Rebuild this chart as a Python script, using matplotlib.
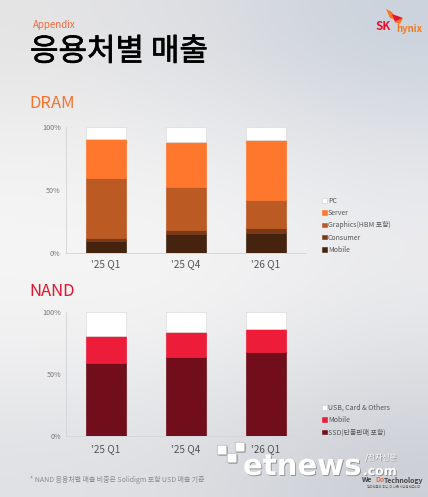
import matplotlib
matplotlib.use("Agg")
import matplotlib.pyplot as plt
import matplotlib.patheffects as pe
from matplotlib.patches import Patch, Polygon, FancyBboxPatch
import numpy as np

plt.rcParams["font.family"] = ["Noto Sans CJK KR", "DejaVu Sans"]

W, H = 428, 497

quarters = ["'25 Q1", "'25 Q4", "'26 Q1"]
y_ticks = [0, 50, 100]
y_tick_labels = ["0%", "50%", "100%"]

# DRAM share per quarter, bottom to top
dram_labels = ["Mobile", "Consumer", "Graphics(HBM 포함)", "Server", "PC"]
dram_colors = ["#46230f", "#7a3a17", "#bc5a24", "#ff762d", "#ffffff"]
dram_mobile = [9.5, 14.8, 15.9]
dram_consumer = [1.9, 2.9, 3.7]
dram_graphics = [47.6, 34.2, 22.2]
dram_server = [31.5, 35.9, 47.9]
dram_pc = [9.5, 12.2, 10.3]

# NAND share per quarter, bottom to top
nand_labels = ["SSD(단품판매 포함)", "Mobile", "USB, Card & Others"]
nand_colors = ["#720d1c", "#ed1c38", "#ffffff"]
nand_ssd = [59.0, 63.6, 67.9]
nand_mobile = [21.9, 20.2, 18.9]
nand_others = [19.1, 16.2, 13.2]

# background colours, coarse grid
bg_grid = [
    ["#e4e4e5", "#dfe0e3", "#d5d9df", "#cbd2dc"],
    ["#f1f1f1", "#efeff0", "#e9eaec", "#e2e4e8"],
    ["#f6f6f6", "#f6f6f6", "#f3f3f4", "#eeeef0"],
    ["#f1f1f2", "#f1f1f2", "#ebebed", "#e3e4e7"],
    ["#e0e1e4", "#dddfe2", "#d4d7dc", "#cbcfd6"],
]


def px_axes(left, top, right, bottom):
    return fig.add_axes([left / W, 1 - bottom / H, (right - left) / W, (bottom - top) / H])


def stacked(ax, series, colors, labels, x_pad):
    bottom = np.zeros(len(quarters))
    handles = []
    for vals, color, label in zip(series, colors, labels):
        edge = "#dcdcdc" if color == "#ffffff" else color
        ax.bar(range(len(quarters)), vals, 0.5, bottom=bottom, color=color, edgecolor=edge, linewidth=0.5)
        bottom += np.array(vals)
        handles.append(Patch(facecolor=color, edgecolor="#cccccc" if color == "#ffffff" else color, linewidth=0.4, label=label))
    ax.set_xlim(-0.5, 2.5)
    ax.set_ylim(0, 100)
    ax.set_xticks(range(len(quarters)))
    ax.set_xticklabels(quarters, fontsize=7.2, color="#555555")
    ax.set_yticks(y_ticks)
    ax.set_yticklabels(y_tick_labels, fontsize=5.2, color="#777777")
    ax.tick_params(axis="y", length=0, pad=3.5)
    ax.tick_params(axis="x", length=0, pad=x_pad)
    ax.patch.set_alpha(0)
    for s in ["top", "right"]:
        ax.spines[s].set_visible(False)
    for s in ["left", "bottom"]:
        ax.spines[s].set_color("#d5d7da")
        ax.spines[s].set_linewidth(0.7)
    return handles[::-1]


def side_legend(handles, left, top):
    fig.legend(handles=handles, loc="upper left", bbox_to_anchor=(left / W, 1 - top / H),
               frameon=False, fontsize=5, labelcolor="#555555", handlelength=0.65, handleheight=0.65,
               handletextpad=0.2, labelspacing=0.6, borderpad=0, borderaxespad=0)


fig = plt.figure(figsize=(W / 100, H / 100), dpi=100)

bg = fig.add_axes([0, 0, 1, 1])
bg_rgb = np.array([[matplotlib.colors.to_rgb(c) for c in row] for row in bg_grid])
bg.imshow(bg_rgb, aspect="auto", interpolation="bicubic", extent=(0, W, H, 0))
bg.set_xlim(0, W)
bg.set_ylim(H, 0)
bg.axis("off")

# header
bg.text(33, 25, "Appendix", fontsize=7, color="#f0693a", va="center")
bg.text(30, 52, "응용처별 매출", fontsize=22.3, color="#000000", va="center",
        path_effects=[pe.withStroke(linewidth=0.5, foreground="#000000")])
bg.text(29.5, 103, "DRAM", fontsize=12, color="#f9732c", va="center")
bg.text(29.5, 292, "NAND", fontsize=12, color="#e5142f", va="center")

# logo
bg.text(375, 26.5, "SK", fontsize=8.4, color="#e8112d", fontweight="bold", va="center")
bg.text(396, 28.5, "hynix", fontsize=6.9, color="#f47a20", fontweight="bold", va="center")
bg.add_patch(Polygon([(386, 9), (392, 12), (396, 20), (390, 18)], closed=True, color="#f47a20", lw=0))
bg.add_patch(Polygon([(392, 14), (403, 18), (395, 22)], closed=True, color="#e8112d", lw=0))
bg.add_patch(Polygon([(394, 22), (403, 18), (400, 24)], closed=True, color="#f47a20", lw=0))

# footnote
bg.text(30, 480, "* NAND 응용처별 매출 비중은 Solidigm 포함 USD 매출 기준", fontsize=5, color="#8a8c90", va="center")

# charts
ax_dram = px_axes(65.5, 126.7, 306, 252.7)
h_dram = stacked(ax_dram, [dram_mobile, dram_consumer, dram_graphics, dram_server, dram_pc], dram_colors, dram_labels, 4.5)
side_legend(h_dram, 322, 197)

ax_nand = px_axes(66, 312.3, 306, 436)
h_nand = stacked(ax_nand, [nand_ssd, nand_mobile, nand_others], nand_colors, nand_labels, 5.5)
side_legend(h_nand, 322, 404)

# watermark on top of the charts
wm = fig.add_axes([0, 0, 1, 1])
wm.set_xlim(0, W)
wm.set_ylim(H, 0)
wm.axis("off")
wm.patch.set_alpha(0)
shadow = [pe.withSimplePatchShadow(offset=(0.6, -0.6), shadow_rgbFace="#777777", alpha=0.8)]
for x, y in [(222, 450), (240, 447), (232, 458)]:
    wm.add_patch(FancyBboxPatch((x - 3.5, y - 3.5), 7, 7, boxstyle="round,pad=1.3", fc="white", ec="#aaaaaa", lw=0.4, path_effects=shadow))
wm.text(243, 475, "etnews", fontsize=21, family="DejaVu Sans", color="white", va="baseline", fontweight="bold", path_effects=shadow)
wm.text(363, 475, ".com", fontsize=9, family="DejaVu Sans", color="white", va="baseline", fontweight="bold", path_effects=shadow)
wm.text(365, 458, "/전자신문", fontsize=5.6, color="white", va="center", path_effects=shadow)
wm.text(362, 480, "We", fontsize=5, color="#444444", va="center", fontweight="bold")
wm.text(375, 480, "Do", fontsize=5, color="#f0693a", va="center", fontweight="bold")
wm.text(384, 480, "Technology", fontsize=5, color="#444444", va="center", fontweight="bold")
wm.text(367, 486, "챔피언들의 중심, 더 나은 세상을 만듭니다", fontsize=2.3, color="#666666", va="center")

fig.savefig("out.png", dpi=100)
